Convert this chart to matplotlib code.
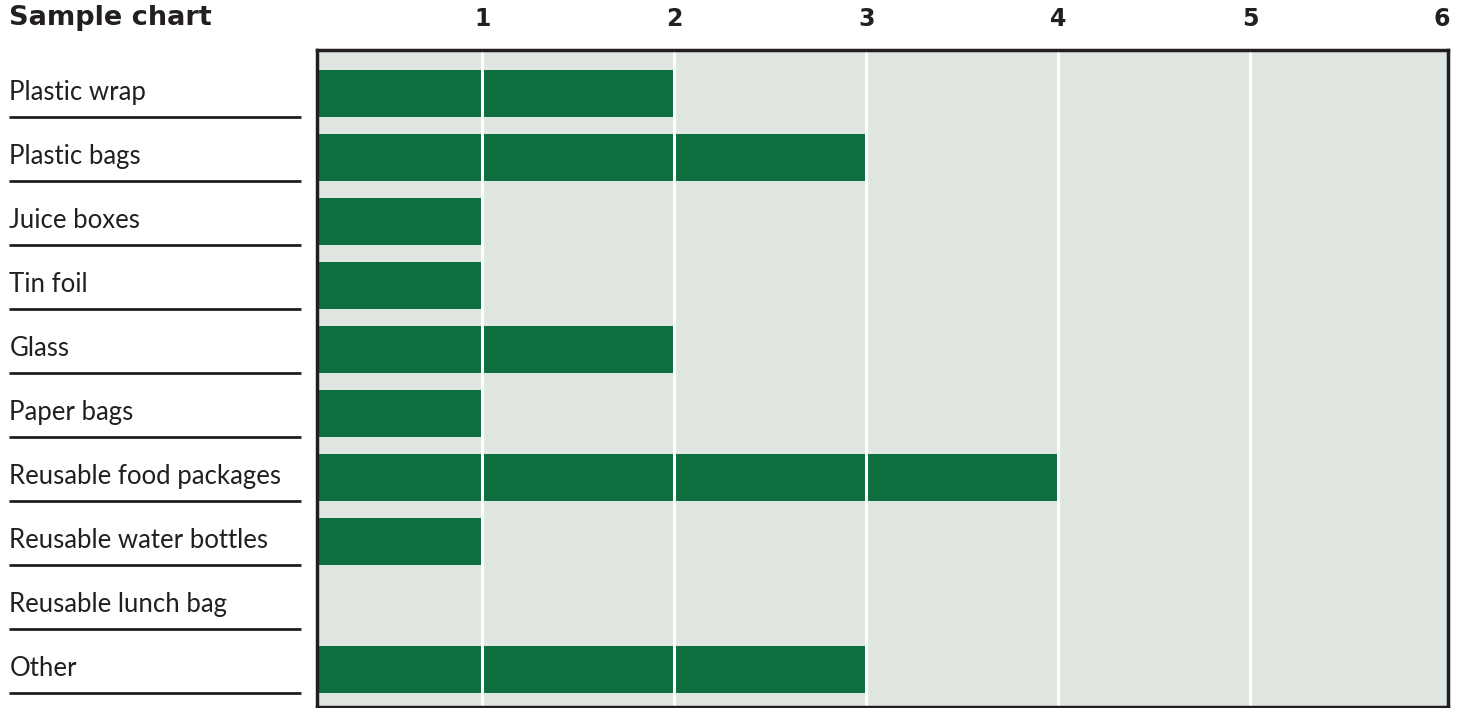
import matplotlib.pyplot as plt
import matplotlib.transforms as mtransforms
import numpy as np

categories = ['Plastic wrap', 'Plastic bags', 'Juice boxes', 'Tin foil', 'Glass',
              'Paper bags', 'Reusable food packages', 'Reusable water bottles',
              'Reusable lunch bag', 'Other']
values = [2, 3, 1, 1, 2, 1, 4, 1, 0, 3]
ticks = [1, 2, 3, 4, 5, 6]

green = '#0e6e40'
bg = '#e0e6e0'
dark = '#231f20'

plt.rcParams['font.family'] = ['Lato', 'DejaVu Sans']

fig = plt.figure(figsize=(14.65, 7.08), dpi=100)
ax = fig.add_axes([317/1465, 1 - 707/708, (1448-317)/1465, (707-50)/708])
ax.set_facecolor(bg)

y = np.arange(len(categories))
ax.barh(y, values, height=0.734, color=green, zorder=1)

ax.set_xlim(0.14, 6.03)
ax.set_ylim(9.586, -0.68)

# white grid drawn over the bars
for t in ticks[:-1]:
    ax.axvline(t, color='white', lw=2.2, zorder=2)

ax.xaxis.tick_top()
ax.set_xticks(ticks)
ax.set_xticklabels([str(t) for t in ticks], fontsize=17, fontweight='bold',
                   color=dark, family='DejaVu Sans')
ax.tick_params(axis='x', length=0, pad=14)
ax.set_yticks([])
for s in ax.spines.values():
    s.set_color(dark)
    s.set_linewidth(2.5)

# category labels with underlines on the left
trans = mtransforms.blended_transform_factory(ax.transAxes, ax.transData)
for i, name in enumerate(categories):
    ax.text(-0.272, i - 0.02, name, transform=trans, fontsize=18.5, color=dark,
            va='center', ha='left')
    ax.plot([-0.272, -0.0141], [i + 0.367, i + 0.367], transform=trans,
            color=dark, lw=2, clip_on=False, solid_capstyle='butt')

fig.text(9/1465, 1 - 18/708, 'Sample chart', fontsize=19.5, fontweight='bold',
         family='DejaVu Sans', color=dark, va='center', ha='left')

fig.savefig('out.png', dpi=100)
